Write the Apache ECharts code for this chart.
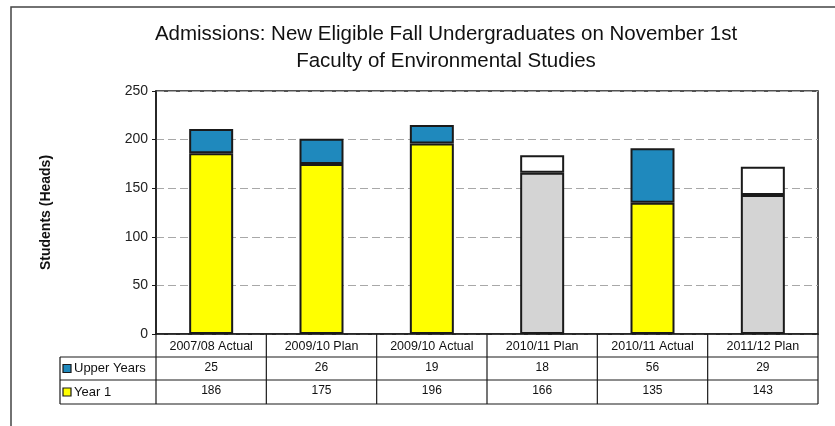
<!DOCTYPE html>
<html><head><meta charset="utf-8">
<script src="https://cdn.jsdelivr.net/npm/echarts@6/dist/echarts.min.js"></script>
<style>html,body{margin:0;padding:0;background:#fff}#c{width:835px;height:426px}</style>
</head><body><div id="c"></div>
<script>
// ---- data ----
const titleLines = ['Admissions: New Eligible Fall Undergraduates on November 1st', 'Faculty of Environmental Studies'];
const yAxisTitle = 'Students (Heads)';
const categories = ['2007/08 Actual', '2009/10 Plan', '2009/10 Actual', '2010/11 Plan', '2010/11 Actual', '2011/12 Plan'];
const seriesNames = ['Upper Years', 'Year 1'];
const upperYears = [25, 26, 19, 18, 56, 29];
const year1 = [186, 175, 196, 166, 135, 143];
const yTicks = [0, 50, 100, 150, 200, 250];

// ---- style ----
const FONT = '"Liberation Sans", Arial, sans-serif';
const BLUE = '#1f89bd', YELLOW = '#ffff00', GREY = '#d4d4d4', WHITE = '#ffffff', EDGE = '#1a1a1a';
const planGrey = [false, false, false, true, false, true];
const G = {left: 156, right: 17, top: 91, bottom: 92};
const W = 835, H = 426;
const plotR = W - G.right, plotB = H - G.bottom;
const rowH = [23, 23, 24];

const chart = echarts.init(document.getElementById('c'), null, {renderer: 'canvas'});

const y1Data = year1.map((v, i) => ({value: v, itemStyle: {color: planGrey[i] ? GREY : YELLOW}}));
const upData = upperYears.map((v, i) => ({value: v, itemStyle: {color: planGrey[i] ? WHITE : BLUE}}));

chart.setOption({
  animation: false,
  backgroundColor: '#fff',
  title: {
    text: titleLines.join('\n'), left: 441, top: 16, textAlign: 'center',
    textStyle: {fontFamily: FONT, fontSize: 20.5, fontWeight: 'normal', color: '#111', lineHeight: 27}
  },
  grid: {left: G.left, right: G.right, top: G.top, bottom: G.bottom, show: true, borderColor: EDGE, borderWidth: 1.5, backgroundColor: 'transparent'},
  xAxis: {
    type: 'category', data: categories,
    axisLine: {show: true, lineStyle: {color: EDGE, width: 1.5}},
    axisTick: {show: false},
    axisLabel: {fontFamily: FONT, fontSize: 12.5, color: '#111', margin: 6, interval: 0}
  },
  yAxis: {
    type: 'value', min: yTicks[0], max: yTicks[yTicks.length - 1], interval: yTicks[1] - yTicks[0],
    name: yAxisTitle, nameLocation: 'middle', nameGap: 103, nameRotate: 90,
    nameTextStyle: {fontFamily: FONT, fontSize: 14, fontWeight: 'bold', color: '#111'},
    axisLine: {show: true, lineStyle: {color: EDGE, width: 1.5}},
    axisTick: {show: true, length: 4, lineStyle: {color: EDGE}},
    axisLabel: {fontFamily: FONT, fontSize: 14, color: '#222', margin: 8},
    splitLine: {show: true, lineStyle: {color: '#a8a8a8', type: [8, 4], width: 1}}
  },
  series: [
    {name: seriesNames[1], type: 'bar', stack: 's', data: y1Data, barWidth: 44,
     itemStyle: {borderColor: EDGE, borderWidth: 2}},
    {name: seriesNames[0], type: 'bar', stack: 's', data: upData, barWidth: 44,
     itemStyle: {borderColor: EDGE, borderWidth: 2}}
  ]
});

// ---- data table below the axis ----
const els = [];
const line = (x1, y1, x2, y2, w) => els.push({type: 'line', shape: {x1, y1, x2, y2}, style: {stroke: EDGE, lineWidth: w || 1}, z: 10});
const tableLeft = 60;
const r0 = plotB, r1 = r0 + rowH[0], r2 = r1 + rowH[1], r3 = r2 + rowH[2];
const step = (plotR - G.left) / categories.length;
line(tableLeft, r1, plotR, r1, 1.2);
line(tableLeft, r2, plotR, r2, 1);
line(tableLeft, r3, plotR, r3, 1.2);
line(tableLeft, r1, tableLeft, r3, 1.2);
line(plotR, r0, plotR, r3, 1.2);
for (let i = 0; i < categories.length; i++) {
  line(G.left + i * step, r0, G.left + i * step, r3, 1.2);
}
const rowsVals = [upperYears, year1];
const rowTops = [r1, r2];
const rowHs = [rowH[1], rowH[2]];
const swatch = [BLUE, YELLOW];
rowsVals.forEach((vals, r) => {
  vals.forEach((v, i) => {
    const cx = chart.convertToPixel({xAxisIndex: 0}, i);
    els.push({type: 'text', x: cx, y: rowTops[r] + rowHs[r] / 2 - 1, z: 11,
      style: {text: String(v), fontFamily: FONT, fontSize: 12, fill: '#111', align: 'center', verticalAlign: 'middle'}});
  });
  els.push({type: 'rect', shape: {x: tableLeft + 3, y: rowTops[r] + rowHs[r] / 2 - 4, width: 8, height: 8},
    style: {fill: swatch[r], stroke: EDGE, lineWidth: 1.2}, z: 11});
  els.push({type: 'text', x: tableLeft + 14, y: rowTops[r] + rowHs[r] / 2, z: 11,
    style: {text: seriesNames[r], fontFamily: FONT, fontSize: 13, fill: '#111', align: 'left', verticalAlign: 'middle'}});
});
// outer frame
els.push({type: 'rect', shape: {x: 11, y: 7, width: 900, height: 440}, style: {fill: null, stroke: '#444', lineWidth: 1.5}, z: 0});
chart.setOption({graphic: {elements: els}});
</script></body></html>
